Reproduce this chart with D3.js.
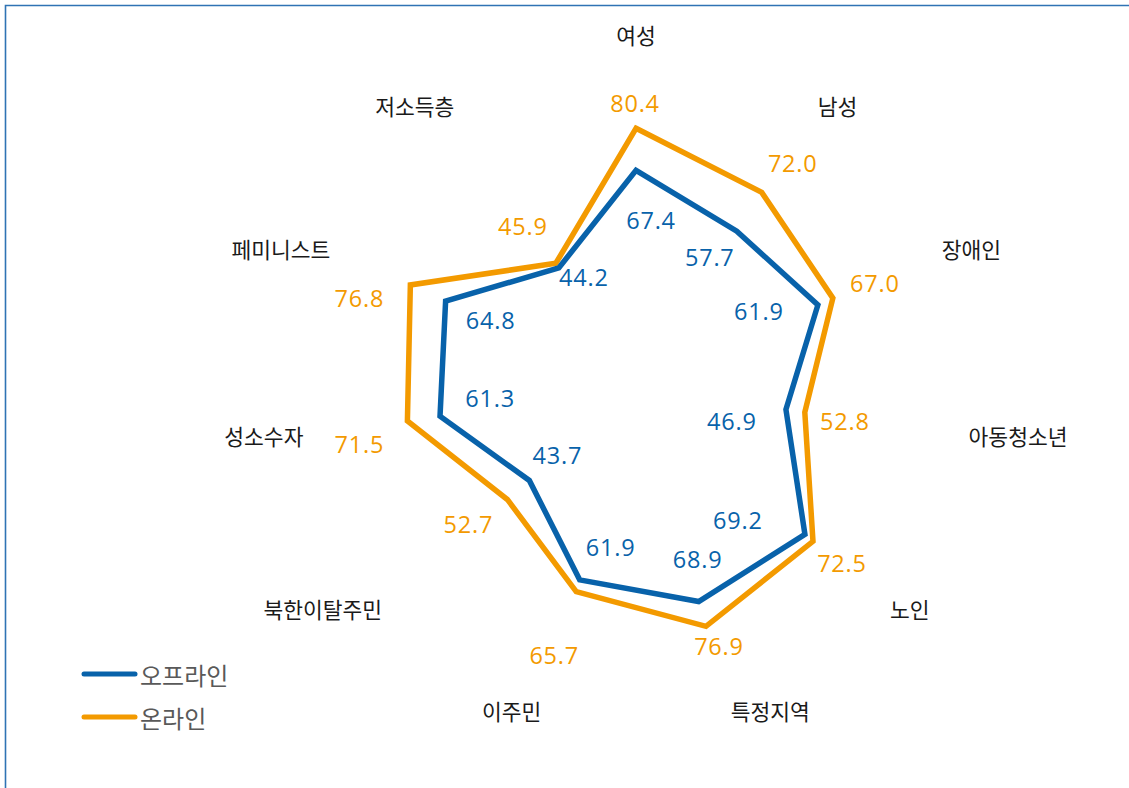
<!DOCTYPE html>
<html>
<head>
<meta charset="utf-8">
<script src="https://cdn.jsdelivr.net/npm/d3@7/dist/d3.min.js"></script>
<style>
  html, body { margin: 0; padding: 0; background: #fff; }
  svg { display: block; }
</style>
</head>
<body>
<svg id="chart" width="1129" height="788"></svg>
<script>
// ---- data ----
const categories = ["여성", "남성", "장애인", "아동청소년", "노인", "특정지역", "이주민", "북한이탈주민", "성소수자", "페미니스트", "저소득층"];
const seriesNames = ["오프라인", "온라인"];
const offline = [67.4, 57.7, 61.9, 46.9, 69.2, 68.9, 61.9, 43.7, 61.3, 64.8, 44.2];
const online  = [80.4, 72.0, 67.0, 52.8, 72.5, 76.9, 65.7, 52.7, 71.5, 76.8, 45.9];

// ---- layout (label nudges in px, relative to each vertex) ----
const offlineLabelNudge = [[15,50],[-27,26],[-59,6],[-54,11],[-67,-14],[-1,-43],[31,-33],[28,-25],[50,-18],[45,19],[25,9]];
const onlineLabelNudge  = [[-1,-25],[31,-29],[42,-15],[40,9],[29,22],[13,20],[-22,63],[-39,25],[-48,23],[-51,13],[-33,-37]];

const W = 1129, H = 788;
const cx = 636, cy = 388;
const colors = { off: "#0862AA", on: "#F39A00" };

const svg = d3.select("#chart");

// frame
svg.append("path")
  .attr("d", `M5.5,${H + 5} L5.5,5.5 L${W + 5},5.5`)
  .attr("fill", "none")
  .attr("stroke", "#2F73B4")
  .attr("stroke-width", 1.6);

const g = svg.append("g").attr("transform", `translate(${cx},${cy})`);

const r = d3.scaleLinear().domain([0, 100]).range([0, 323]);
const angle = d3.scalePoint().domain(d3.range(categories.length + 1)).range([0, 2 * Math.PI]);
const ang = i => angle(i);

const line = d3.lineRadial()
  .angle((d, i) => ang(i))
  .radius(d => r(d))
  .curve(d3.curveLinearClosed);

// series lines
[[online, colors.on], [offline, colors.off]].forEach(([vals, col]) => {
  g.append("path")
    .datum(vals)
    .attr("d", line)
    .attr("fill", "none")
    .attr("stroke", col)
    .attr("stroke-width", 5.5)
    .attr("stroke-linejoin", "miter")
    .attr("stroke-miterlimit", 10);
});

// value labels
function drawValues(vals, nudge, col) {
  g.selectAll(null)
    .data(vals)
    .join("text")
    .attr("x", (d, i) => d3.pointRadial(ang(i), r(d))[0] + nudge[i][0])
    .attr("y", (d, i) => d3.pointRadial(ang(i), r(d))[1] + nudge[i][1])
    .attr("text-anchor", "middle")
    .attr("dominant-baseline", "central")
    .attr("font-family", "'Open Sans', 'Noto Sans', sans-serif")
    .attr("font-size", 23.5)
    .attr("letter-spacing", "0.8px")
    .attr("fill", col)
    .text(d => d.toFixed(1));
}
drawValues(online, onlineLabelNudge, colors.on);
drawValues(offline, offlineLabelNudge, colors.off);

// category labels
const labelR = 336;
g.selectAll(null)
  .data(categories)
  .join("text")
  .attr("x", (d, i) => d3.pointRadial(ang(i), labelR)[0])
  .attr("y", (d, i) => d3.pointRadial(ang(i), labelR)[1] + (i === 0 ? -18 : 0))
  .attr("text-anchor", (d, i) => {
    const s = Math.sin(ang(i));
    return s > 0.01 ? "start" : (s < -0.01 ? "end" : "middle");
  })
  .attr("dominant-baseline", "central")
  .attr("font-family", "'Noto Sans CJK KR', sans-serif")
  .attr("font-size", 21.5)
  .attr("fill", "#1a1a1a")
  .text(d => d);

// legend
const legend = svg.append("g").attr("transform", "translate(82,674)");
const legendItems = [[seriesNames[0], colors.off], [seriesNames[1], colors.on]];
legendItems.forEach(([name, col], i) => {
  const y = i * 43;
  legend.append("line")
    .attr("x1", 2).attr("x2", 53)
    .attr("y1", y).attr("y2", y)
    .attr("stroke", col)
    .attr("stroke-width", 5)
    .attr("stroke-linecap", "round");
  legend.append("text")
    .attr("x", 58).attr("y", y)
    .attr("dominant-baseline", "central")
    .attr("font-family", "'Noto Sans CJK KR', sans-serif")
    .attr("font-size", 24)
    .attr("fill", "#595959")
    .text(name);
});
</script>
</body>
</html>
